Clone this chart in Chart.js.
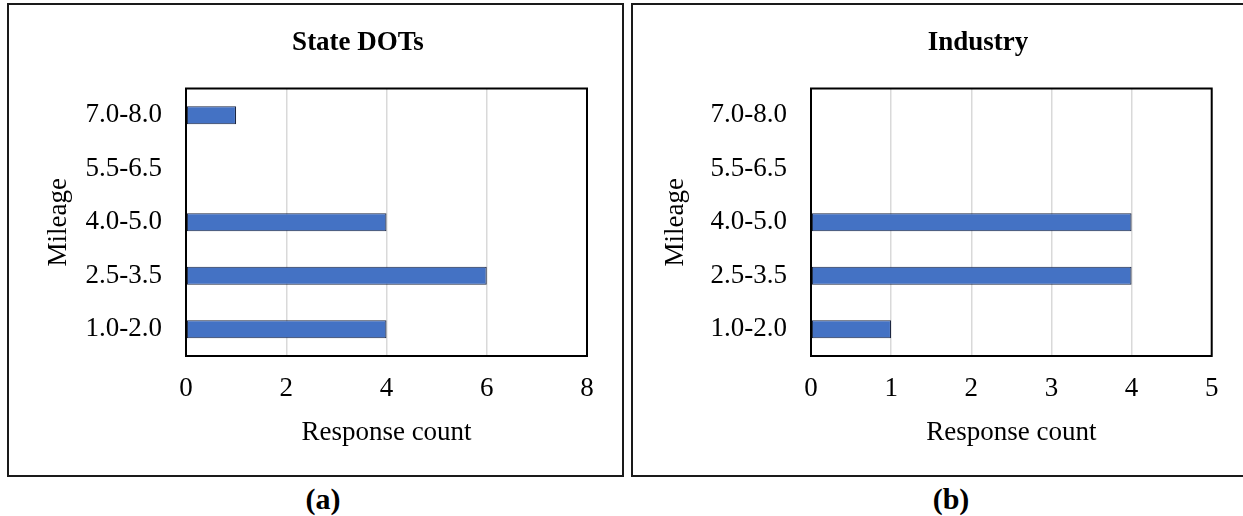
<!DOCTYPE html>
<html>
<head>
<meta charset="utf-8">
<script src="https://cdn.jsdelivr.net/npm/chart.js@4.4.1/dist/chart.umd.min.js"></script>
<style>
  html, body {
    margin: 0; padding: 0; background: #fff;
    width: 1243px; height: 516px; overflow: hidden; position: relative;
    font-family: "Liberation Serif", "Times New Roman", serif; color: #000;
  }
  .frame { position: absolute; border: 2px solid #1a1a1a; box-sizing: border-box; }
  #frameA { left: 7px; top: 3px; width: 617px; height: 474px; }
  #frameB { left: 631px; top: 3px; width: 640px; height: 474px; }
  canvas { position: absolute; }
  #chartA { left: 10px; top: 6px; }
  #chartB { left: 635px; top: 6px; }
  .title {
    position: absolute; top: 26px; font-weight: bold; font-size: 27px;
    line-height: 30px; white-space: nowrap; transform: translateX(-50%);
  }
  .tag {
    position: absolute; top: 482px; font-weight: bold; font-size: 30px;
    line-height: 34px; white-space: nowrap; transform: translateX(-50%);
  }
</style>
</head>
<body>
<div class="frame" id="frameA"></div>
<div class="frame" id="frameB"></div>
<canvas id="chartA" width="610" height="466"></canvas>
<canvas id="chartB" width="608" height="466"></canvas>
<div class="title" style="left:358px">State DOTs</div>
<div class="title" style="left:978px">Industry</div>
<div class="tag" style="left:323px">(a)</div>
<div class="tag" style="left:951px">(b)</div>
<script>
// Mileage bins, bottom to top on the category axis
const categories = ['1.0-2.0', '2.5-3.5', '4.0-5.0', '5.5-6.5', '7.0-8.0'];

// Number of responses per mileage bin
const stateDotCounts = [4, 6, 4, 0, 1];
const industryCounts = [1, 4, 4, 0, 0];

// Value-axis tick labels for each panel
const stateDotTicks = [0, 2, 4, 6, 8];
const industryTicks = [0, 1, 2, 3, 4, 5];

const FONT = '"Liberation Serif", "Times New Roman", serif';
const FONT_SIZE = 27;

// Black box round the plotting area
const plotFrame = {
  id: 'plotFrame',
  afterDatasetsDraw(chart) {
    const { ctx, chartArea: a } = chart;
    ctx.save();
    ctx.strokeStyle = '#000';
    ctx.lineWidth = 2;
    ctx.strokeRect(a.left, a.top, a.right - a.left, a.bottom - a.top);
    ctx.restore();
  }
};

function makeChart(id, values, tickValues, padRight, yTitlePad) {
  return new Chart(document.getElementById(id), {
    type: 'bar',
    data: {
      labels: categories,
      datasets: [{
        data: values,
        backgroundColor: '#4472C4',
        borderColor: '#1c2640',
        borderWidth: 1.2,
        borderSkipped: false,
        barPercentage: 1,
        categoryPercentage: 0.34
      }]
    },
    options: {
      indexAxis: 'y',
      responsive: false,
      animation: false,
      layout: { padding: { left: 0, right: padRight, top: 82.5, bottom: 0 } },
      plugins: { legend: { display: false }, tooltip: { enabled: false } },
      scales: {
        x: {
          min: tickValues[0],
          max: tickValues[tickValues.length - 1],
          afterBuildTicks: s => { s.ticks = tickValues.map(v => ({ value: v })); },
          afterFit: s => { s.height = 116; },
          grid: { color: '#d9d9d9', lineWidth: 1.5, drawTicks: false },
          border: { display: false },
          ticks: { color: '#000', padding: 17, font: { family: FONT, size: FONT_SIZE } },
          title: {
            display: true, text: 'Response count', color: '#000',
            padding: { top: 0, bottom: 23 }, font: { family: FONT, size: FONT_SIZE }
          }
        },
        y: {
          reverse: true,
          afterFit: s => { s.width = 176; },
          grid: { display: false, drawTicks: false },
          border: { display: false },
          ticks: { color: '#000', padding: 24, font: { family: FONT, size: FONT_SIZE } },
          title: {
            display: true, text: 'Mileage', color: '#000',
            padding: { top: yTitlePad, bottom: 0 }, font: { family: FONT, size: FONT_SIZE }
          }
        }
      }
    },
    plugins: [plotFrame]
  });
}

makeChart('chartA', stateDotCounts, stateDotTicks, 33, 33);
makeChart('chartB', industryCounts, industryTicks, 31.3, 25);
</script>
</body>
</html>
